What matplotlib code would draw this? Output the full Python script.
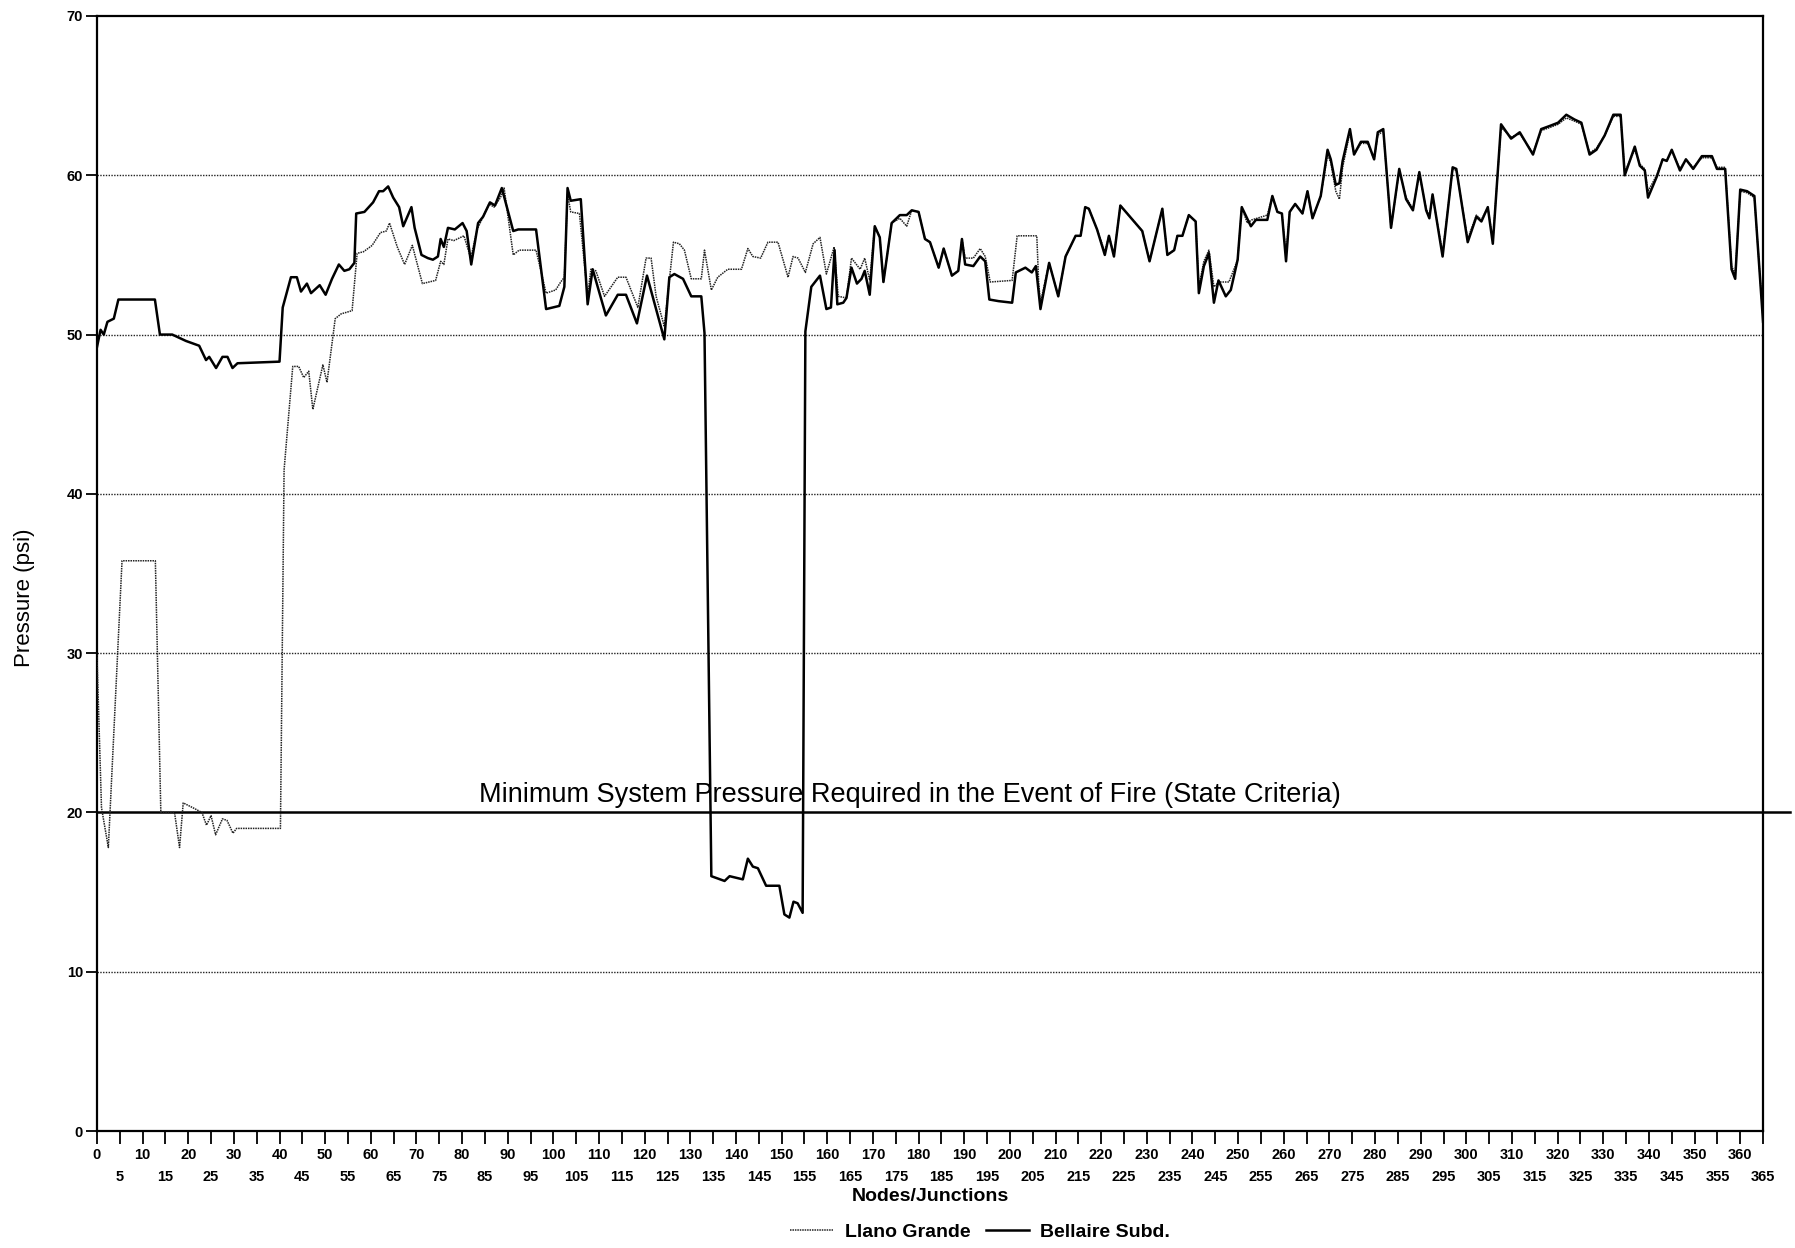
import matplotlib
matplotlib.use("Agg")
import matplotlib.pyplot as plt
from matplotlib.ticker import FixedLocator, FixedFormatter

plt.rcParams['font.family'] = ['Liberation Sans', 'DejaVu Sans']

# readings: junction number -> pressure (psi)
bellaire_nodes = [0, 0.8, 1.5, 2.3, 3.7, 4.7, 12.7, 13.8, 16.5, 19.5, 22.4, 23.9, 24.6, 26.1, 27.5,
                  28.6, 29.7, 30.8, 40.0, 40.7, 42.5, 43.8, 44.7, 46.0, 46.9, 48.8, 50.1, 51.5, 53.0,
                  54.2, 55.3, 56.4, 56.8, 58.6, 60.5, 61.8, 62.7, 63.8, 64.9, 66.2, 67.1, 68.9, 69.6,
                  71.1, 72.5, 73.6, 74.7, 75.3, 76.0, 76.9, 78.4, 80.1, 81.0, 82.0, 83.5, 84.6, 86.1,
                  87.2, 88.7, 91.2, 92.3, 96.2, 98.4, 101.3, 102.4, 103.1, 103.8, 106.0, 107.5, 108.6,
                  111.5, 114.1, 115.9, 118.3, 120.5, 122.3, 124.3, 125.4, 126.5, 128.4, 130.2, 132.4,
                  133.1, 134.6, 137.5, 138.6, 141.5, 142.6, 143.7, 144.8, 146.6, 149.5, 150.6, 151.7,
                  152.6, 153.5, 154.6, 155.2, 156.5, 158.4, 159.8, 160.8, 161.6, 162.2, 163.5, 164.2,
                  165.3, 166.5, 167.5, 168.2, 169.3, 170.4, 171.5, 172.3, 174.1, 175.9, 177.4, 178.5,
                  180.0, 181.4, 182.5, 184.4, 185.5, 187.3, 188.7, 189.5, 190.2, 192.0, 193.5, 194.6,
                  195.5, 197.5, 200.5, 201.3, 203.4, 204.8, 205.7, 206.7, 208.6, 210.6, 212.2, 214.4,
                  215.5, 216.5, 217.3, 219.1, 220.8, 221.7, 222.8, 224.2, 229.0, 230.6, 233.4, 234.5,
                  236.0, 236.7, 237.8, 239.2, 240.7, 241.4, 242.5, 243.6, 244.7, 245.7, 247.3, 248.4,
                  249.9, 250.8, 252.8, 253.9, 256.4, 257.5, 258.6, 259.6, 260.5, 261.3, 262.5, 264.1,
                  265.2, 266.3, 268.1, 269.6, 270.3, 271.4, 272.2, 272.9, 274.5, 275.4, 276.9, 278.4,
                  279.8, 280.6, 281.8, 283.5, 285.3, 286.8, 288.3, 289.7, 291.2, 291.9, 292.6, 294.8,
                  297.0, 297.8, 300.3, 302.2, 303.3, 304.7, 305.8, 307.6, 309.8, 311.7, 314.6, 316.4,
                  318.3, 320.1, 321.9, 323.7, 325.2, 327.0, 328.5, 330.3, 332.2, 333.8, 334.7, 336.9,
                  338.0, 339.1, 339.8, 341.7, 343.0, 343.9, 345.0, 346.8, 348.1, 349.7, 351.6, 353.8,
                  354.9, 356.7, 358.1, 358.9, 360.0, 361.5, 363.1, 365.0]
bellaire_psi = [49.2, 50.3, 50.0, 50.8, 51.0, 52.2, 52.2, 50.0, 50.0, 49.6, 49.3, 48.4, 48.6, 47.9, 48.6,
                48.6, 47.9, 48.2, 48.3, 51.7, 53.6, 53.6, 52.7, 53.2, 52.6, 53.1, 52.5, 53.5, 54.4,
                54.0, 54.1, 54.5, 57.6, 57.7, 58.3, 59.0, 59.0, 59.3, 58.6, 58.0, 56.8, 58.0, 56.7,
                55.0, 54.8, 54.7, 54.9, 56.0, 55.5, 56.7, 56.6, 57.0, 56.5, 54.4, 57.0, 57.4, 58.3,
                58.1, 59.2, 56.5, 56.6, 56.6, 51.6, 51.8, 53.0, 59.2, 58.4, 58.5, 51.9, 54.1,
                51.2, 52.5, 52.5, 50.7, 53.7, 51.8, 49.7, 53.6, 53.8, 53.5, 52.4, 52.4,
                50.1, 16.0, 15.7, 16.0, 15.8, 17.1, 16.6, 16.5, 15.4, 15.4, 13.6, 13.4,
                14.4, 14.3, 13.7, 50.2, 53.0, 53.7, 51.6, 51.7, 55.3, 51.9, 52.0, 52.3,
                54.2, 53.2, 53.5, 54.0, 52.5, 56.8, 56.1, 53.3, 57.0, 57.5, 57.5, 57.8,
                57.7, 56.0, 55.8, 54.2, 55.4, 53.7, 54.0, 56.0, 54.4, 54.3, 54.9, 54.6,
                52.2, 52.1, 52.0, 53.9, 54.2, 53.9, 54.3, 51.6, 54.5, 52.4, 54.9, 56.2,
                56.2, 58.0, 57.9, 56.6, 55.0, 56.2, 54.9, 58.1, 56.5, 54.6, 57.9, 55.0,
                55.3, 56.2, 56.2, 57.5, 57.1, 52.6, 54.3, 55.1, 52.0, 53.4, 52.4, 52.8,
                54.7, 58.0, 56.8, 57.2, 57.2, 58.7, 57.7, 57.6, 54.6, 57.7, 58.2, 57.6,
                59.0, 57.3, 58.7, 61.6, 61.0, 59.4, 59.5, 60.9, 62.9, 61.3, 62.1, 62.1,
                61.0, 62.7, 62.9, 56.7, 60.4, 58.5, 57.8, 60.2, 57.8, 57.3, 58.8, 54.9,
                60.5, 60.4, 55.8, 57.4, 57.1, 58.0, 55.7, 63.2, 62.3, 62.7, 61.3, 62.9,
                63.1, 63.3, 63.8, 63.5, 63.3, 61.3, 61.6, 62.5, 63.8, 63.8, 60.0, 61.8,
                60.6, 60.3, 58.6, 59.9, 61.0, 60.9, 61.6, 60.3, 61.0, 60.4, 61.2, 61.2,
                60.4, 60.4, 54.1, 53.5, 59.1, 59.0, 58.7, 50.8]

llano_nodes = [0, 1.0, 2.5, 5.5, 12.8, 14.0, 17.0, 18.1, 18.9, 21.0, 23.0, 24.0, 25.0, 26.0, 27.5,
               28.5, 29.8, 30.6, 40.2, 41.0, 42.9, 44.2, 45.3, 46.4, 47.3, 49.5, 50.4, 52.2, 53.5,
               55.9, 57.0, 58.4, 60.3, 62.1, 63.4, 64.1, 65.8, 67.4, 69.1, 71.3, 74.2, 75.3, 76.0,
               76.9, 78.2, 80.4, 81.9, 83.3, 85.9, 87.0, 88.4, 89.2, 91.2, 92.5, 96.2, 98.4, 100.5,
               101.6, 102.4, 103.1, 103.8, 105.7, 107.5, 108.2, 109.3, 111.2, 114.1, 115.9, 118.5,
               120.3, 121.4, 122.5, 124.3, 126.3, 127.6, 128.7, 130.2, 132.4, 133.1, 134.6, 136.0,
               138.2, 141.2, 142.6, 143.7, 145.4, 147.0, 149.2, 151.4, 152.5, 153.6, 155.2, 156.9,
               158.4, 159.8, 161.5, 162.4, 164.2, 165.3, 167.2, 168.2, 169.3, 170.4, 171.5, 172.3,
               174.1, 175.9, 177.4, 178.5, 180.0, 181.4, 182.5, 184.4, 185.5, 187.3, 188.7, 189.5,
               190.2, 192.0, 193.5, 194.6, 195.7, 200.5, 201.6, 205.9, 206.3, 206.7, 208.6, 210.6,
               212.2, 214.4, 215.5, 216.5, 217.3, 219.1, 220.8, 221.7, 222.8, 224.2, 229.0, 230.6,
               233.4, 234.5, 236.0, 236.7, 237.8, 239.2, 240.7, 241.4, 242.5, 243.6, 244.7, 245.8,
               248.0, 249.9, 250.8, 252.0, 253.0, 256.4, 257.5, 258.6, 259.6, 260.5, 261.3, 262.5,
               264.1, 265.2, 266.3, 268.1, 269.6, 270.3, 271.4, 272.2, 272.9, 274.5, 275.4, 276.9,
               278.4, 279.8, 280.6, 281.8, 283.5, 285.3, 286.8, 288.3, 289.7, 291.2, 291.9, 292.6,
               294.8, 297.0, 297.8, 300.3, 302.2, 303.3, 304.7, 305.8, 307.6, 309.8, 311.7, 314.6,
               316.4, 318.3, 320.1, 321.9, 323.7, 325.2, 327.0, 328.5, 330.3, 332.2, 333.8, 334.7,
               336.9, 338.0, 339.1, 339.8, 341.7, 343.0, 343.9, 345.0, 346.8, 348.1, 349.7, 351.6,
               353.8, 354.9, 356.7, 358.1, 358.9, 360.0, 361.5, 363.1, 365.0]
llano_psi = [29.9, 20.3, 17.8, 35.8, 35.8, 20.0, 20.0, 17.8, 20.6, 20.3, 20.0, 19.2, 19.8, 18.6, 19.6,
             19.5, 18.7, 19.0, 19.0, 41.5, 48.0, 48.0, 47.3, 47.7, 45.3, 48.1, 47.0, 51.0, 51.3,
             51.5, 55.1, 55.2, 55.6, 56.4, 56.5, 57.0, 55.5, 54.4, 55.6, 53.2, 53.4, 54.6, 54.4,
             56.0, 55.9, 56.2, 54.8, 56.6, 58.2, 58.0, 58.6, 59.2, 55.0, 55.3, 55.3, 52.6, 52.8,
             53.3, 53.6, 58.8, 57.7, 57.6, 52.4, 54.1, 54.0, 52.4, 53.6, 53.6, 51.7,
             54.8, 54.8, 52.4, 50.5, 55.8, 55.7, 55.3, 53.5, 53.5, 55.3, 52.8, 53.6,
             54.1, 54.1, 55.4, 54.9, 54.8, 55.8, 55.8, 53.6, 54.9, 54.8, 53.9, 55.7,
             56.1, 53.8, 55.5, 52.4, 52.3, 54.8, 54.1, 54.8, 53.4, 56.8, 56.1, 53.3,
             57.0, 57.3, 56.8, 57.8, 57.7, 56.0, 55.8, 54.2, 55.4, 53.7, 54.0, 56.0,
             54.8, 54.8, 55.4, 54.9, 53.3, 53.4, 56.2, 56.2, 53.3, 52.0, 54.5, 52.4,
             54.9, 56.2, 56.2, 58.0, 57.9, 56.6, 55.2, 56.2, 55.0, 58.1, 56.5, 54.6,
             57.9, 55.0, 55.3, 56.2, 56.2, 57.5, 57.1, 53.0, 54.6, 55.3, 53.0, 53.3,
             53.3, 54.7, 58.0, 57.0, 57.2, 57.5, 58.7, 57.7, 57.6, 55.0, 57.7, 58.2,
             57.6, 59.0, 57.3, 58.7, 61.3, 60.8, 59.0, 58.5, 60.5, 62.7, 61.3, 62.0,
             62.0, 61.0, 62.5, 62.8, 56.7, 60.3, 58.6, 57.9, 60.1, 57.9, 57.4, 58.7,
             55.1, 60.4, 60.3, 56.0, 57.5, 57.2, 58.0, 55.9, 63.0, 62.4, 62.6, 61.4,
             62.8, 63.0, 63.2, 63.6, 63.4, 63.2, 61.4, 61.7, 62.5, 63.7, 63.7, 60.2,
             61.6, 60.7, 60.4, 59.0, 60.0, 61.0, 60.9, 61.5, 60.4, 61.0, 60.5, 61.1,
             61.1, 60.5, 60.5, 54.3, 53.8, 59.0, 58.9, 58.6, 51.0]

min_pressure = 20
min_label = 'Minimum System Pressure Required in the Event of Fire (State Criteria)'

fig = plt.figure(figsize=(17.95, 12.48), dpi=100)
ax = fig.add_axes([0.054, 0.0937, 0.9282, 0.8935])

# dotted horizontal grid, solid state-criteria line
for g in [10, 30, 40, 50, 60]:
    ax.axhline(g, color='#222222', lw=1.0, ls=(0, (1, 1)), zorder=1)
ax.plot([0, 371], [min_pressure, min_pressure], color='black', lw=1.8, clip_on=False, zorder=2)
ax.text(178, min_pressure + 0.3, min_label, ha='center', va='bottom', fontsize=19.5)

ax.plot(llano_nodes, llano_psi, color='#222222', lw=1.1, ls=(0, (1, 0.6)), label='Llano Grande', zorder=3)
ax.plot(bellaire_nodes, bellaire_psi, color='black', lw=1.8, label='Bellaire Subd.', zorder=4)

ax.set_xlim(0, 365)
ax.set_ylim(0, 70)

ticks10 = list(range(0, 366, 10))
ticks5 = list(range(5, 366, 10))
ax.xaxis.set_major_locator(FixedLocator(ticks10))
ax.xaxis.set_major_formatter(FixedFormatter([str(t) for t in ticks10]))
ax.xaxis.set_minor_locator(FixedLocator(ticks5))
ax.xaxis.set_minor_formatter(FixedFormatter([str(t) for t in ticks5]))
ax.tick_params(axis='x', which='major', length=9, width=1.3, pad=3, labelsize=10.5)
ax.tick_params(axis='x', which='minor', length=9, width=1.3, pad=19, labelsize=10.5)
ax.set_yticks(range(0, 71, 10))
ax.tick_params(axis='y', length=8, width=1.3, pad=2, labelsize=10.5)
for lab in ax.get_xticklabels(which='both') + ax.get_yticklabels():
    lab.set_fontweight('bold')

for s in ax.spines.values():
    s.set_linewidth(1.6)

ax.set_xlabel('Nodes/Junctions', fontsize=14, fontweight='bold', labelpad=3)
ax.set_ylabel('Pressure (psi)', fontsize=16)
ax.yaxis.set_label_coords(-0.037, 0.478)

fig.legend(loc='center', bbox_to_anchor=(0.546, 0.013), ncol=2, frameon=False,
           prop={'size': 14, 'weight': 'bold'}, handlelength=2.2, columnspacing=0.8,
           handletextpad=0.6)

fig.savefig('out.png', dpi=100)
